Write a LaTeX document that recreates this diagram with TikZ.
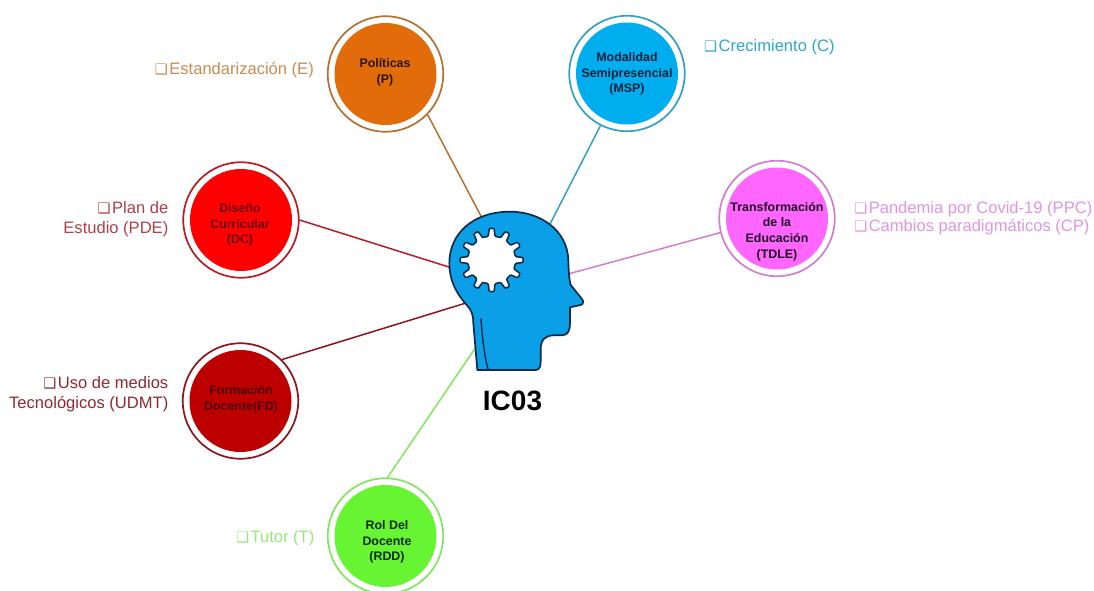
\documentclass[tikz,border=0pt]{standalone}
\usepackage{fontspec}
\setmainfont{Liberation Sans}
\newfontfamily\symfont{DejaVu Sans}
\newcommand{\cb}{{\symfont\fontsize{14.5}{14.5}\selectfont ❑}\kern1.5pt}
\definecolor{orA}{HTML}{E36C0A}\definecolor{orR}{HTML}{B8702E}\definecolor{orL}{HTML}{C98B4E}\definecolor{orT}{HTML}{2A1505}
\definecolor{blA}{HTML}{00AEEF}\definecolor{blR}{HTML}{35A0C4}\definecolor{blL}{HTML}{2FA8CC}\definecolor{blT}{HTML}{06203C}
\definecolor{reA}{HTML}{FF0000}\definecolor{reR}{HTML}{B81C24}\definecolor{reL}{HTML}{B04048}\definecolor{reT}{HTML}{6A0010}
\definecolor{drA}{HTML}{BC0000}\definecolor{drR}{HTML}{8E1420}\definecolor{drL}{HTML}{8E2A30}\definecolor{drT}{HTML}{4E0008}
\definecolor{grA}{HTML}{66F433}\definecolor{grR}{HTML}{84E460}\definecolor{grL}{HTML}{96E87A}\definecolor{grT}{HTML}{0A2A08}
\definecolor{maA}{HTML}{FF66FF}\definecolor{maR}{HTML}{D07FD0}\definecolor{maL}{HTML}{E294E2}\definecolor{maT}{HTML}{200A20}
\definecolor{headfill}{HTML}{0A9FE6}\definecolor{headline}{HTML}{0A2A4A}
\tikzset{
  topic/.style={circle,draw=#1,line width=1.7pt,minimum size=115.5pt,inner sep=0pt},
  disc/.style={circle,fill=#1,minimum size=102pt,inner sep=0pt},
  disctext/.style={inner sep=0pt,align=center,text=#1,
    font=\fontsize{12.4}{15.6}\selectfont\bfseries},
  link/.style={draw=#1,line width=1.5pt},
  lab/.style={inner sep=0pt,text=#1,font=\fontsize{16.55}{20}\selectfont},
}
\begin{document}
\begin{tikzpicture}[x=1pt,y=-1pt]
\useasboundingbox (0,0) rectangle (1094,591);
\fill[white] (0,0) rectangle (1094,591);
% circles
\node[topic=orR] (p) at (385.5,74) {};
\node[topic=blR] (m) at (627,73.5) {};
\node[topic=reR] (d) at (241,220) {};
\node[topic=drR] (f) at (240.5,401) {};
\node[topic=grR] (r) at (385.5,536) {};
\node[topic=maR] (t) at (777,218.5) {};
\node[disc=orA] (pd) at (p) {};
\node[disc=blA] (md) at (m) {};
\node[disc=reA] (dd) at (d) {};
\node[disc=drA] (fd) at (f) {};
\node[disc=grA] (rd) at (r) {};
\node[disc=maA] (td) at (t) {};
\node[disctext=orT] (pt) at (385,72) {Políticas\\(P)};
\node[disctext=blT] (mt) at (627,74) {Modalidad\\Semipresencial\\(MSP)};
\node[disctext=reT] (dt) at (240,225) {Diseño\\Curricular\\(DC)};
\node[disctext=drT] (ft) at (241,399) {Formación\\Docente(FD)};
\node[disctext=grT] (rt) at (387,542) {Rol Del\\Docente\\(RDD)};
\node[disctext=maT] (tt) at (777,231.5) {Transformación\\de la\\Educación\\(TDLE)};
% anchors on the head
\coordinate (hp) at (482,218);
\coordinate (hm) at (548,228);
\coordinate (hd) at (452,268);
\coordinate (ht) at (568,274);
\coordinate (hf) at (466,303);
\coordinate (hr) at (476,347);
\draw[link=orR] (p.-44) -- (hp);
\draw[link=blR] (m.-117) -- (hm);
\draw[link=reR] (d.0) -- (hd);
\draw[link=maR] (t.194) -- (ht);
\draw[link=drR] (f.45) -- (hf);
\draw[link=grR] (r.88) -- (hr);
% head
\begin{scope}[shift={(430,190)},x=0.3333pt,y=-0.3333pt]
\draw[fill=headfill,draw=headline,line width=1.7pt,line join=round]
  (142,540) -- (318,540) .. controls (330,540) and (333,525) .. (332,510)
  -- (332,478) .. controls (332,450) and (345,437) .. (370,436)
  -- (395,436) .. controls (415,436) and (420,420) .. (420,400)
  -- (420,352) -- (452,345) .. controls (462,342) and (462,332) .. (452,322)
  -- (422,285) .. controls (418,270) and (416,250) .. (415,210)
  .. controls (412,120) and (330,65) .. (240,65)
  .. controls (130,65) and (58,130) .. (58,220)
  .. controls (58,280) and (88,320) .. (110,345)
  .. controls (125,360) and (130,375) .. (130,400) -- cycle;
\draw[draw=headline,line width=1.4pt] (153,385) .. controls (156,440) and (165,510) .. (175,540);
\draw[fill=white,draw=headline,line width=1.5pt,line join=round,rounded corners=1pt,shift={(185,210)}]
  (-8:72)
  \foreach \a in {0,30,...,330} { -- (\a-8:72) -- (\a-4.5:95) -- (\a+4.5:95) -- (\a+8:72) } -- cycle;
\end{scope}
\node[inner sep=0pt,font=\fontsize{28}{28}\selectfont\bfseries] (ic) at (512.5,401) {IC03};
% labels
\node[lab=orL,anchor=east] (le) at (314,70) {\cb Estandarización (E)};
\node[lab=blL,anchor=west] (lc) at (704,47) {\cb Crecimiento (C)};
\node[lab=maL,anchor=east,align=left] (lt) at (1092.5,218) {\cb Pandemia por Covid-19 (PPC)\\[-1.5pt]\cb Cambios paradigmáticos (CP)};
\node[lab=reL,anchor=east,align=right] (lp) at (168.5,219) {\cb Plan de\\Estudio (PDE)};
\node[lab=drL,anchor=east,align=right] (lu) at (168.5,394.5) {\cb Uso de medios\\Tecnológicos (UDMT)};
\node[lab=grL,anchor=east] (lr) at (314.5,538) {\cb Tutor (T)};
\end{tikzpicture}
\end{document}
